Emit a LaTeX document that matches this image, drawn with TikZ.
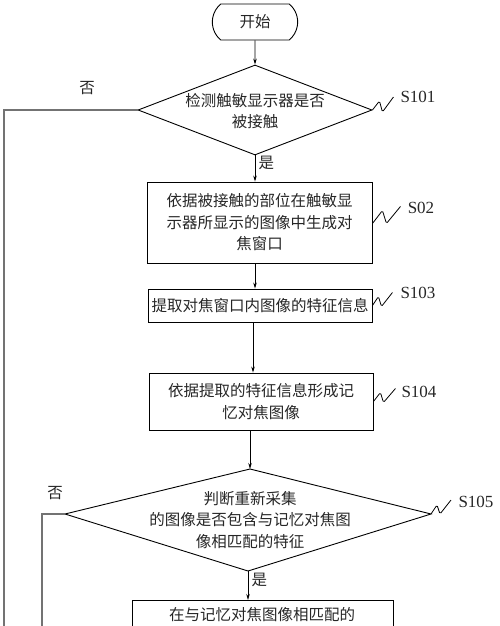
\documentclass[tikz,border=0pt]{standalone}
\usepackage{fontspec}
\setmainfont{Liberation Serif}
\newfontfamily\cjk{Noto Sans CJK SC}
\usetikzlibrary{shapes.geometric,shapes.misc,arrows.meta}
\begin{document}
\begin{tikzpicture}[x=1pt,y=-1pt,
    every node/.style={font=\cjk\fontsize{15.5pt}{21.5pt}\selectfont,text=black!85},
    box/.style={draw,line width=0.9pt,inner sep=0pt},
    flow/.style={line width=0.8pt,-{Stealth[length=6pt,width=3.5pt]}},
    back/.style={line width=1.4pt,black!55},
    wave/.style={line width=0.8pt,rounded corners=1.5pt},
    steplabel/.style={font=\fontsize{17pt}{17pt}\selectfont}]
    \useasboundingbox (0,0) rectangle (500,626);
    \clip (0,0) rectangle (500,626);
    \node[draw,rounded rectangle,rounded rectangle arc length=100,line width=0.9pt,
      minimum width=92pt,minimum height=36pt] (start) at (255,22) {开始};
    \node[draw,diamond,line width=0.9pt,inner sep=0pt,
      minimum width=234pt,minimum height=90pt] (d1) at (255,110) {};
    \node[align=center] (d1text) at (255,111) {检测触敏显示器是否\\被接触};
    \node[box,minimum width=225pt,minimum height=81pt,align=center] (box2) at (259.5,222.5)
      {依据被接触的部位在触敏显\\示器所显示的图像中生成对\\焦窗口};
    \node[box,minimum width=224pt,minimum height=33pt] (box3) at (260,305.5)
      {提取对焦窗口内图像的特征信息};
    \node[box,minimum width=224pt,minimum height=57pt,align=center] (box4) at (261,401.5)
      {依据提取的特征信息形成记\\忆对焦图像};
    \coordinate (d2n) at (250,469);
    \coordinate (d2e) at (431,514);
    \coordinate (d2s) at (248,571);
    \coordinate (d2w) at (65,514);
    \draw[line width=0.9pt] (d2n) -- (d2e) -- (d2s) -- (d2w) -- cycle;
    \node[align=center] (d2text) at (250,520) {判断重新采集\\的图像是否包含与记忆对焦图\\像相匹配的特征};
    \node[box,minimum width=261pt,minimum height=62pt,anchor=north] (box6) at (262.5,600) {};
    \node (box6text) at (262,615) {在与记忆对焦图像相匹配的};

    \draw[flow] (start) -- (d1);
    \draw[flow] (d1.south) -- (d1.south |- box2.north) node[anchor=west,pos=0.3] {是};
    \draw[flow] (d1.south |- box2.south) -- (d1.south |- box3.north);
    \draw[flow] ([xshift=-7pt]box3.south) -- ([xshift=-8pt]box4.north);
    \draw[flow] (box4.south -| d2n) -- (d2n);
    \draw[flow] (d2s) -- (d2s |- box6.north) node[anchor=west,pos=0.3] {是};

    \coordinate (no1end) at (4,640);
    \coordinate (no2end) at (42,640);
    \draw[back] (d1.west) -| (no1end);
    \draw[back] (d2w) -| (no2end);
    \node (no1) at (87,88) {否};
    \node (no2) at (55,493) {否};

    \draw[wave] (d1.east) -- ++(7,-9) -- ++(3,11) -- ++(11,-15);
    \node[steplabel] (s101) at (418,97) {S101};
    \draw[wave] ([yshift=-1pt]box2.east) -- ++(10,-13) -- ++(4,13) -- ++(14,-17);
    \node[steplabel] (s102) at (421,208) {S02};
    \draw[wave] (box3.east) -- ++(6,-9) -- ++(3,10) -- ++(11,-14);
    \node[steplabel] (s103) at (418,293) {S103};
    \draw[wave] (box4.east) -- ++(7,-9) -- ++(3,10) -- ++(12,-14);
    \node[steplabel] (s104) at (419,392) {S104};
    \draw[wave] (d2e) -- ++(6,-9) -- ++(3,9) -- ++(11,-14);
    \node[steplabel] (s105) at (476,502) {S105};
\end{tikzpicture}
\end{document}
